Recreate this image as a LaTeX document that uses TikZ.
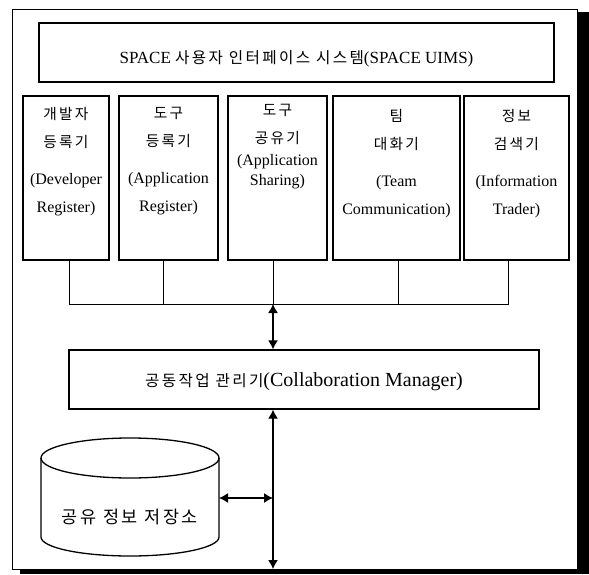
\documentclass[tikz,border=0pt]{standalone}
\usepackage{fontspec}
\setmainfont{Liberation Serif}
\newfontfamily\hangul[Scale=0.92, LetterSpace=15]{Noto Sans CJK KR}
\newcommand\kr[1]{{\hangul #1}}
\usepackage{tikz}
\usetikzlibrary{positioning}
\usetikzlibrary{arrows.meta}
\tikzset{
    x=1pt, y=-1pt, % one unit is one pixel of the layout, y grows downwards
    frame/.style={draw, line width=0.8pt},
    titlebox/.style={ % the UIMS bar and the manager bar
        draw,
        line width=1.3pt,
        inner sep=0pt
    },
    modbox/.style={ % one box per tool
        draw,
        line width=1.4pt,
        minimum height=164,
        inner sep=0pt
    },
    modtext/.style={
        align=center,
        inner sep=0pt,
        font=\fontsize{16}{28}\selectfont
    },
    dbline/.style={draw, line width=1.3pt},
    bus/.style={draw, line width=1pt},
    link/.style={ % double arrows
        draw,
        line width=1.3pt,
        {Latex[length=9pt,width=10pt]}-{Latex[length=9pt,width=10pt]}
    }
}
\begin{document}
\begin{tikzpicture}
    \useasboundingbox (0,0) rectangle (589,575);

    % outer frame with its shadow
    \draw[frame] (12,9) rectangle (577,569);
    \fill (577.4,12) rectangle (589,574);
    \fill (20,569.4) rectangle (589,574);

    \node[titlebox, minimum width=515, minimum height=59, font=\fontsize{17}{20}\selectfont,
          text height=22pt, text depth=0pt] (uims) at (296.5,52.5)
        {SPACE \kr{사용자 인터페이스 시스템}(SPACE UIMS)};

    % tool boxes
    \node[modbox, minimum width=86] (dev) at (66,178) {};
    \node[modbox, minimum width=99] (appreg) at (168.5,178) {};
    \node[modbox, minimum width=99] (share) at (277.5,178) {};
    \node[modbox, minimum width=127] (team) at (396.5,178) {};
    \node[modbox, minimum width=105] (info) at (516.5,178) {};

    \node[modtext, below=12pt of dev.north] (devtext)
        {\kr{개발자}\\\kr{등록기}\\[9pt](Developer\\Register)};
    \node[modtext, below=12pt of appreg.north] (appregtext)
        {\kr{도구}\\\kr{등록기}\\[9pt](Application\\Register)};
    \node[modtext, below=9pt of share.north, font=\fontsize{16}{20}\selectfont] (sharetext)
        {\kr{도구}\\[8pt]\kr{공유기}\\[2pt](Application\\Sharing)};
    \node[modtext, below=14pt of team.north] (teamtext)
        {\kr{팀}\\\kr{대화기}\\[9pt](Team\\Communication)};
    \node[modtext, below=14pt of info.north] (infotext)
        {\kr{정보}\\\kr{검색기}\\[9pt](Information\\Trader)};

    % bus under the tool boxes
    \coordinate (b1) at (69,304);
    \coordinate (b2) at (163,304);
    \coordinate (hub) at (273,304);
    \coordinate (b4) at (398,304);
    \coordinate (b5) at (508,304);
    \draw[bus] (dev.south -| b1) -- (b1) -- (b5) -- (info.south -| b5);
    \draw[bus] (appreg.south -| b2) -- (b2);
    \draw[bus] (share.south -| hub) -- (hub);
    \draw[bus] (team.south -| b4) -- (b4);

    \node[titlebox, minimum width=470, minimum height=59, font=\fontsize{20}{22}\selectfont,
          text depth=0pt] (mgr) at (304,379.5)
        {{\fontsize{17}{20}\selectfont\kr{공동작업 관리기}}(Collaboration Manager)};

    % shared store
    \draw[dbline] (41,458) -- (41,537) arc[start angle=180, end angle=0, x radius=89, y radius=19]
        -- (219,458);
    \draw[dbline] (130,458) ellipse [x radius=89, y radius=20];
    \node[font=\fontsize{19}{22}\selectfont, inner sep=0pt] (dbtext) at (130,517)
        {\kr{공유 정보 저장소}};
    \coordinate (dbport) at (219,498);

    \coordinate (ground) at (273,569);
    \draw[link] (hub) -- (mgr.north -| hub);
    \draw[link] (mgr.south -| hub) -- (ground);
    \draw[link] (dbport) -- (dbport -| hub);
\end{tikzpicture}
\end{document}
